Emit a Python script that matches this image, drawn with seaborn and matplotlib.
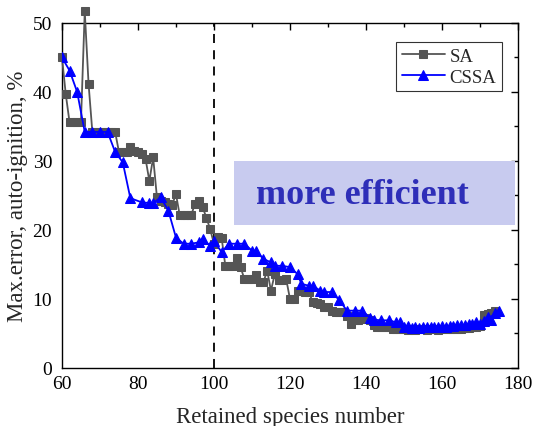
import numpy as np
import pandas as pd
import seaborn as sns
import matplotlib.pyplot as plt
from matplotlib.patches import Rectangle
from matplotlib.ticker import MultipleLocator

# SA 데이터 (retained species number, max error %)
sa_x = [60, 61, 62, 63, 64, 65, 66, 67, 68, 69, 70, 71, 72, 73, 74, 75, 76, 77, 78, 79,
        80, 81, 82, 83, 84, 85, 86, 87, 88, 89, 90, 91, 92, 93, 94, 95, 96, 97, 98, 99,
        100, 101, 102, 103, 104, 105, 106, 107, 108, 109, 110, 111, 112, 113, 114, 115, 116, 117, 118, 119,
        120, 121, 122, 123, 124, 125, 126, 127, 128, 129, 130, 131, 132, 133, 134, 135, 136, 137, 138, 139,
        140, 141, 142, 143, 144, 145, 146, 147, 148, 149, 150, 151, 152, 153, 154, 155, 156, 157, 158, 159,
        160, 161, 162, 163, 164, 165, 166, 167, 168, 169, 170, 171, 172, 173, 174]
sa_y = [45.0, 39.7, 35.6, 35.6, 35.6, 35.6, 51.7, 41.2, 34.2, 34.2, 34.2, 34.2, 34.2, 34.2, 34.2, 31.3, 31.3, 31.3, 32.0, 31.5,
        31.3, 31.0, 30.3, 27.1, 30.5, 24.7, 24.2, 24.0, 23.8, 23.6, 25.2, 22.1, 22.1, 22.1, 22.1, 23.8, 24.2, 23.3, 21.8, 20.1,
        18.0, 19.0, 18.9, 14.8, 14.8, 14.8, 16.0, 14.6, 12.9, 12.9, 12.9, 13.4, 12.4, 12.4, 14.1, 11.2, 13.6, 12.7, 12.7, 12.9,
        10.0, 10.0, 11.2, 11.2, 11.0, 11.0, 9.5, 9.4, 9.3, 8.9, 8.8, 8.3, 8.1, 8.1, 8.1, 7.5, 6.4, 6.9, 7.0, 7.1,
        7.3, 7.0, 6.2, 5.9, 5.9, 5.9, 5.9, 5.7, 5.7, 5.6, 5.6, 5.5, 5.6, 5.5, 5.6, 5.6, 5.5, 5.6, 5.6, 5.5,
        5.6, 5.6, 5.6, 5.7, 5.7, 5.7, 5.8, 5.8, 5.9, 5.9, 6.1, 7.6, 7.8, 8.0, 8.3]

# CSSA 데이터
cssa_x = [60, 62, 64, 66, 68, 70, 72, 74, 76, 78, 81, 83, 84, 86, 88, 90, 92, 94, 96, 97,
          99, 100, 102, 104, 106, 108, 110, 111, 113, 115, 116, 118, 120, 122, 123, 125, 126, 128, 129, 131,
          133, 135, 137, 139, 141, 142, 144, 146, 148, 149, 150, 151, 152, 153, 154, 155, 156, 157, 158, 159,
          160, 161, 162, 163, 164, 165, 166, 167, 168, 169, 170, 171, 172, 173, 174, 175]
cssa_y = [45.0, 43.1, 40.0, 34.2, 34.2, 34.2, 34.2, 31.3, 29.8, 24.6, 24.0, 23.9, 23.9, 24.7, 22.8, 18.9, 18.0, 18.0, 18.2, 18.7,
          17.7, 18.4, 16.8, 18.0, 18.0, 18.0, 17.0, 17.0, 15.8, 15.3, 14.8, 14.8, 14.6, 13.6, 12.2, 11.9, 11.9, 11.2, 11.0, 11.0,
          9.8, 8.3, 8.3, 8.3, 7.3, 7.0, 6.9, 6.9, 6.6, 6.6, 5.9, 6.1, 5.8, 6.0, 5.8, 6.0, 5.9, 6.0, 6.0, 5.9,
          6.1, 6.0, 6.1, 6.1, 6.2, 6.2, 6.2, 6.3, 6.3, 6.6, 6.4, 6.8, 7.4, 6.9, 7.9, 8.3]

sa_df = pd.DataFrame({"x": sa_x, "y": sa_y})
cssa_df = pd.DataFrame({"x": cssa_x, "y": cssa_y})

sns.set_style("white")
plt.rcParams['font.family'] = ['Liberation Serif', 'DejaVu Serif']

fig = plt.figure(figsize=(5.34, 4.27), dpi=100)
ax = fig.add_axes([0.116, 0.136, 0.854, 0.808])

sns.lineplot(data=sa_df, x="x", y="y", ax=ax, color="#555555", marker="s",
             markersize=6, markeredgecolor="#555555", linewidth=1.3,
             estimator=None, sort=False, label="SA", clip_on=False, zorder=3)
sns.lineplot(data=cssa_df, x="x", y="y", ax=ax, color="#0000ff", marker="^",
             markersize=7.5, markeredgecolor="#0000ff", linewidth=1.3,
             estimator=None, sort=False, label="CSSA", zorder=4)

# 기준선
ax.axvline(100, color="black", linestyle=(0, (5, 4)), linewidth=1.3, zorder=2)

# more efficient 박스
ax.add_patch(Rectangle((0.377, 0.414), 0.616, 0.186, transform=ax.transAxes,
                       facecolor="#c8cbef", edgecolor="none", zorder=1))
ax.text(0.66, 0.503, "more efficient", transform=ax.transAxes, ha="center", va="center",
        fontsize=26, fontweight="bold", color="#2e2eb8", zorder=5)

ax.set_xlim(60, 180)
ax.set_ylim(0, 50)
ax.xaxis.set_major_locator(MultipleLocator(20))
ax.xaxis.set_minor_locator(MultipleLocator(10))
ax.yaxis.set_major_locator(MultipleLocator(10))
ax.yaxis.set_minor_locator(MultipleLocator(5))
ax.tick_params(which="both", direction="in", top=True, right=True, width=1.0,
               labelsize=14, colors="black")
ax.tick_params(which="major", length=5)
ax.tick_params(which="minor", length=3)
ax.tick_params(axis="x", pad=5)
ax.tick_params(axis="y", pad=7)
for s in ax.spines.values():
    s.set_color("black")
    s.set_linewidth(1.0)

ax.set_xlabel("Retained species number", fontsize=16.5, labelpad=10)
ax.set_ylabel("Max.error, auto-ignition, %", fontsize=16.5, labelpad=3)

leg = ax.legend(loc="upper right", bbox_to_anchor=(0.965, 0.945), fontsize=13.5,
                frameon=True, fancybox=False, edgecolor="black", handlelength=2.3,
                handletextpad=0.25, borderpad=0.3, labelspacing=0.2, borderaxespad=0)
leg.get_frame().set_linewidth(0.8)

fig.savefig("out.png", dpi=100)
plt.close()
